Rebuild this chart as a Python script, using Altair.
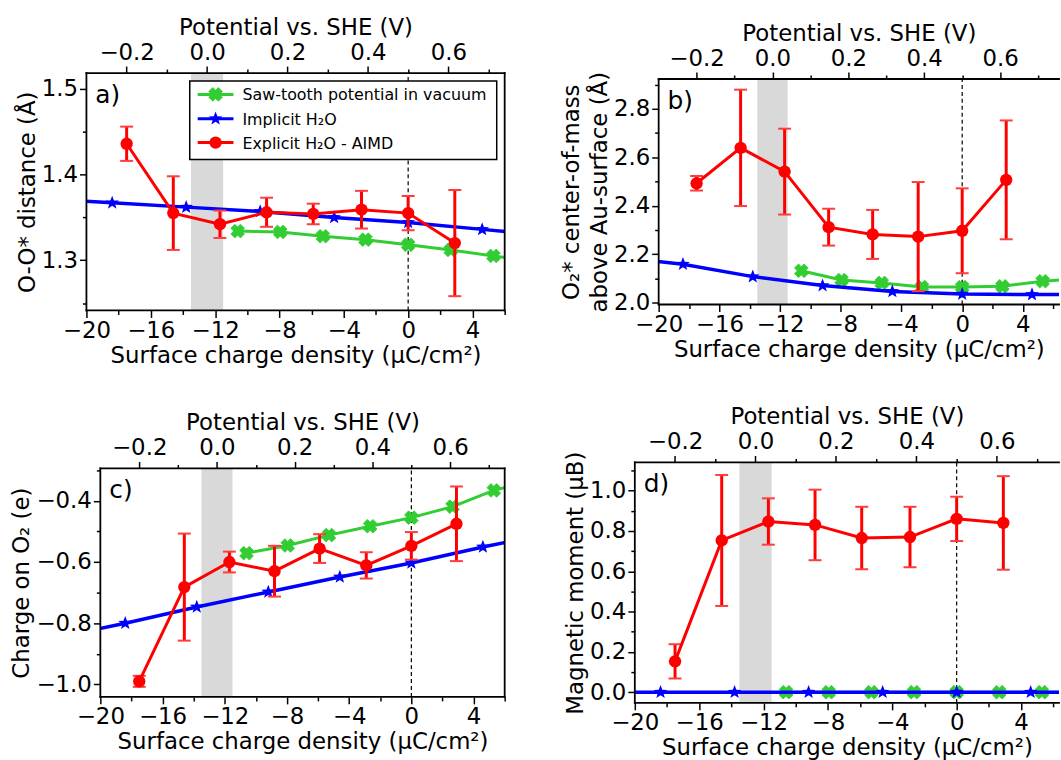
import math
import altair as alt
import pandas as pd

# ---------------- data ----------------
BAND = [-13.5, -11.5]          # grey band (surface charge density)
POT_AT_ZERO = 0.5              # potential (V) at zero surface charge
CHARGE_PER_VOLT = 25.0         # µC/cm² per V (top axis relation)

RED_X = [-17.5, -14.6, -11.7, -8.8, -5.9, -2.9, 0.0, 2.9]
BLUE_X = [-23.0, -18.4, -13.8, -9.2, -4.6, 0.0, 4.6, 9.2]
GREEN_X = [-10.6, -7.95, -5.3, -2.65, 0.0, 2.65, 5.3, 7.95]

# a) O-O* distance
A_RED = [1.436, 1.355, 1.342, 1.356, 1.354, 1.359, 1.355, 1.320]
A_RED_ERR = [0.020, 0.043, 0.016, 0.017, 0.012, 0.022, 0.020, 0.062]
A_BLUE = [1.372, 1.367, 1.362, 1.357, 1.350, 1.344, 1.336, 1.328]
A_GREEN = [1.334, 1.333, 1.328, 1.324, 1.318, 1.312, 1.305, 1.298]

# b) O2* centre-of-mass height
B_RED = [2.493, 2.639, 2.541, 2.312, 2.282, 2.273, 2.297, 2.507]
B_RED_ERR = [0.030, 0.240, 0.177, 0.076, 0.101, 0.225, 0.175, 0.245]
B_BLUE = [2.190, 2.159, 2.108, 2.071, 2.047, 2.036, 2.034, 2.034]
B_GREEN = [2.132, 2.094, 2.082, 2.065, 2.065, 2.068, 2.089, 2.100]

# c) charge on O2
C_RED = [-0.990, -0.682, -0.600, -0.630, -0.556, -0.611, -0.547, -0.475]
C_RED_ERR = [0.018, 0.175, 0.034, 0.083, 0.047, 0.043, 0.045, 0.122]
C_BLUE = [-0.849, -0.800, -0.747, -0.698, -0.649, -0.603, -0.551, -0.502]
C_GREEN = [-0.571, -0.546, -0.512, -0.483, -0.455, -0.419, -0.366, -0.330]

# d) magnetic moment
D_RED = [0.153, 0.753, 0.847, 0.830, 0.765, 0.770, 0.860, 0.840]
D_RED_ERR = [0.085, 0.325, 0.115, 0.175, 0.155, 0.150, 0.110, 0.232]
D_BLUE = [0.0, 0.0, 0.0, 0.0, 0.0, 0.0, 0.0, 0.0]
D_GREEN = [0.0, 0.0, 0.0, 0.0, 0.0, 0.0, 0.0, 0.0]

X_MAJOR = [-20, -16, -12, -8, -4, 0, 4]
X_MINOR = [-18, -14, -10, -6, -2, 2, 6]
POT_MAJOR = [-0.2, 0.0, 0.2, 0.4, 0.6]
POT_MINOR = [-0.1, 0.1, 0.3, 0.5, 0.7]

LEGEND_LABELS = ["Saw-tooth potential in vacuum", "Implicit H\u2082O", "Explicit H\u2082O - AIMD"]

X_TITLE = "Surface charge density (\u03bcC/cm\u00b2)"
TOP_TITLE = "Potential vs. SHE (V)"

# ---------------- styles ----------------
FONT = "DejaVu Sans"
FS = 23
RED = "#ff0000"
CAP = "#ff3b3b"
BLUE = "#0000ff"
GREEN = "#32cd32"
GRAY = "#d9d9d9"
MINUS_1F = "replace(format(datum.value, '.1f'), '-', '\u2212')"
MINUS_INT = "replace(format(datum.value, 'd'), '-', '\u2212')"
POT_LABEL = ("replace(format(datum.value / %g + %g, '.1f'), '-', '\u2212')"
             % (CHARGE_PER_VOLT, POT_AT_ZERO))


def star_path(inner=0.42):
    pts = []
    for k in range(10):
        r = 1.0 if k % 2 == 0 else inner
        ang = math.radians(-90 + 36 * k)
        pts.append((r * math.cos(ang), r * math.sin(ang)))
    return "M " + " L ".join(f"{x:.3f} {y:.3f}" for x, y in pts) + " Z"


def x_path(h=0.42):
    plus = [(h, -1), (h, -h), (1, -h), (1, h), (h, h), (h, 1), (-h, 1), (-h, h),
            (-1, h), (-1, -h), (-h, -h), (-h, -1)]
    c = 1 / math.sqrt(2)
    rot = [((x - y) * c, (x + y) * c) for x, y in plus]
    m = max(max(abs(a), abs(b)) for a, b in rot)
    return "M " + " L ".join(f"{a / m:.3f} {b / m:.3f}" for a, b in rot) + " Z"


STAR = star_path()
XSHAPE = x_path()
STAR_SIZE = 210
X_SIZE = 190
DOT_SIZE = 155


def to_x(v):
    return (v - POT_AT_ZERO) * CHARGE_PER_VOLT


def panel(label, ytitle, xdom, ydom, ymaj, ymin, red_y, red_err, blue_y, green_y,
          W, H, ytitle_pad=2, legend=False, right_spine=True):
    xs = alt.Scale(domain=xdom, nice=False, zero=False)
    ys = alt.Scale(domain=ydom, nice=False, zero=False)

    def X(f, axis=None):
        return alt.X(f, type="quantitative", scale=xs, axis=axis)

    def Y(f, axis=None):
        return alt.Y(f, type="quantitative", scale=ys, axis=axis)

    layers = []
    band = alt.Chart(pd.DataFrame({"x0": [BAND[0]], "x1": [BAND[1]],
                                   "y0": [ydom[0]], "y1": [ydom[1]]})).mark_rect(
        color=GRAY).encode(x=X("x0"), x2=alt.X2("x1"), y=Y("y0"), y2=alt.Y2("y1"))
    layers.append(band)
    zero = alt.Chart(pd.DataFrame({"x": [0.0], "y0": [ydom[0]], "y1": [ydom[1]]})).mark_rule(
        color="black", strokeDash=[4, 3], strokeWidth=1.2).encode(
        x=X("x"), y=Y("y0"), y2=alt.Y2("y1"))
    layers.append(zero)

    gdf = pd.DataFrame({"x": GREEN_X, "y": green_y})
    layers.append(alt.Chart(gdf).mark_line(color=GREEN, strokeWidth=3, clip=True).encode(
        x=X("x"), y=Y("y")))
    layers.append(alt.Chart(gdf).mark_point(shape=XSHAPE, filled=True, color=GREEN, size=X_SIZE,
                                            opacity=1, strokeWidth=0.8, stroke=GREEN,
                                            clip=True).encode(x=X("x"), y=Y("y")))

    bdf = pd.DataFrame({"x": BLUE_X, "y": blue_y})
    layers.append(alt.Chart(bdf).mark_line(color=BLUE, strokeWidth=3.5, clip=True).encode(
        x=X("x"), y=Y("y")))
    layers.append(alt.Chart(bdf).mark_point(shape=STAR, filled=True, color=BLUE, size=STAR_SIZE,
                                            opacity=1, clip=True).encode(x=X("x"), y=Y("y")))

    rdf = pd.DataFrame({"x": RED_X, "y": red_y, "err": red_err})
    rdf["lo"] = rdf["y"] - rdf["err"]
    rdf["hi"] = rdf["y"] + rdf["err"]
    layers.append(alt.Chart(rdf).mark_rule(color=RED, strokeWidth=3).encode(
        x=X("x"), y=Y("lo"), y2=alt.Y2("hi")))
    for f in ["lo", "hi"]:
        layers.append(alt.Chart(rdf).mark_point(shape="stroke", color=CAP, size=169,
                                                strokeWidth=2, opacity=1).encode(
            x=X("x"), y=Y(f)))
    layers.append(alt.Chart(rdf).mark_line(color=RED, strokeWidth=3).encode(x=X("x"), y=Y("y")))
    layers.append(alt.Chart(rdf).mark_circle(color=RED, size=DOT_SIZE, opacity=1).encode(
        x=X("x"), y=Y("y")))

    # frame (spines) on top of the data
    one = pd.DataFrame({"a": [0]})
    spine = dict(color="black", strokeWidth=1.8, strokeCap="square")
    layers.append(alt.Chart(one).mark_rule(**spine).encode(
        x=alt.value(0), x2=alt.value(W), y=alt.value(0), y2=alt.value(0)))
    layers.append(alt.Chart(one).mark_rule(**spine).encode(
        x=alt.value(0), x2=alt.value(W), y=alt.value(H), y2=alt.value(H)))
    layers.append(alt.Chart(one).mark_rule(**spine).encode(
        x=alt.value(0), x2=alt.value(0), y=alt.value(0), y2=alt.value(H)))
    if right_spine:
        layers.append(alt.Chart(one).mark_rule(**spine).encode(
            x=alt.value(W), x2=alt.value(W), y=alt.value(0), y2=alt.value(H)))

    layers.append(alt.Chart(pd.DataFrame({"t": [label]})).mark_text(
        fontSize=25, align="left", baseline="alphabetic", color="black", font=FONT).encode(
        text="t:N", x=alt.value(9), y=alt.value(30)))

    if legend:
        layers.append(alt.Chart(one).mark_rect(
            fill="white", stroke="black", strokeWidth=1.5).encode(
            x=alt.value(104), x2=alt.value(413), y=alt.value(8), y2=alt.value(87)))
        rows = [21.5, 46, 70]
        cols = [GREEN, BLUE, RED]
        for i, (lab, col, yy) in enumerate(zip(LEGEND_LABELS, cols, rows)):
            d1 = pd.DataFrame({"t": [lab]})
            layers.append(alt.Chart(d1).mark_rule(color=col, strokeWidth=3).encode(
                x=alt.value(112), x2=alt.value(148), y=alt.value(yy), y2=alt.value(yy)))
            if i == 0:
                mk = alt.Chart(d1).mark_point(shape=XSHAPE, filled=True, color=col, size=X_SIZE,
                                              opacity=1, stroke=col, strokeWidth=0.8)
            elif i == 1:
                mk = alt.Chart(d1).mark_point(shape=STAR, filled=True, color=col,
                                              size=STAR_SIZE, opacity=1)
            else:
                mk = alt.Chart(d1).mark_circle(color=col, size=DOT_SIZE, opacity=1)
            layers.append(mk.encode(x=alt.value(130), y=alt.value(yy)))
            layers.append(alt.Chart(d1).mark_text(
                align="left", baseline="middle", fontSize=16, color="black", font=FONT).encode(
                text="t:N", x=alt.value(157), y=alt.value(yy + 1)))

    # axes (invisible holders, both channels encoded)
    hold = pd.DataFrame({"u": [0.0], "v": [ydom[0]]})
    xmin = [v for v in X_MINOR if xdom[0] <= v <= xdom[1]]
    layers.append(alt.Chart(hold).mark_point(opacity=0).encode(y=Y("v"), x=X("u", alt.Axis(
        orient="bottom", values=X_MAJOR, title=X_TITLE, labelExpr=MINUS_INT, tickSize=7))))
    layers.append(alt.Chart(hold).mark_point(opacity=0).encode(y=Y("v"), x=X("u", alt.Axis(
        orient="bottom", values=xmin, title=None, labels=False, tickSize=4))))
    layers.append(alt.Chart(hold).mark_point(opacity=0).encode(y=Y("v"), x=X("u", alt.Axis(
        orient="top", values=[to_x(v) for v in POT_MAJOR], title=TOP_TITLE,
        labelExpr=POT_LABEL, tickSize=7))))
    layers.append(alt.Chart(hold).mark_point(opacity=0).encode(y=Y("v"), x=X("u", alt.Axis(
        orient="top", values=[to_x(v) for v in POT_MINOR], title=None, labels=False,
        tickSize=4))))
    layers.append(alt.Chart(hold).mark_point(opacity=0).encode(x=X("u"), y=Y("v", alt.Axis(
        orient="left", values=ymaj, title=ytitle, labelExpr=MINUS_1F, tickSize=7,
        titlePadding=ytitle_pad))))
    layers.append(alt.Chart(hold).mark_point(opacity=0).encode(x=X("u"), y=Y("v", alt.Axis(
        orient="left", values=ymin, title=None, labels=False, tickSize=4))))

    return alt.layer(*layers).resolve_axis(x="independent", y="independent").properties(
        width=W, height=H)


def spacer(w):
    return alt.Chart(pd.DataFrame({"a": [0]})).mark_point(opacity=0).properties(
        width=w, height=1)


pa = panel("a)", "O-O* distance (\u00c5)", [-20, 6], [1.2413, 1.5186], [1.3, 1.4, 1.5],
           [1.25, 1.35, 1.45], A_RED, A_RED_ERR, A_BLUE, A_GREEN, 421, 239, legend=True)
pb = panel("b)", ["O\u2082* center-of-mass", "above Au-surface (\u00c5)"], [-20, 6.38],
           [1.993, 2.923], [2.0, 2.2, 2.4, 2.6, 2.8], [2.1, 2.3, 2.5, 2.7, 2.9],
           B_RED, B_RED_ERR, B_BLUE, B_GREEN, 403, 227, right_spine=False)
pc = panel("c)", "Charge on O\u2082 (e)", [-20, 6], [-1.041, -0.294], [-1.0, -0.8, -0.6, -0.4],
           [-0.9, -0.7, -0.5, -0.3], C_RED, C_RED_ERR, C_BLUE, C_GREEN, 407, 230)
pd_ = panel("d)", "Magnetic moment (\u03bcB)", [-20, 6.36], [-0.053, 1.140],
            [0.0, 0.2, 0.4, 0.6, 0.8, 1.0], [0.1, 0.3, 0.5, 0.7, 0.9, 1.1],
            D_RED, D_RED_ERR, D_BLUE, D_GREEN, 427, 242, right_spine=False)

row1 = alt.hconcat(alt.hconcat(spacer(16), pa, spacing=0), pb, spacing=54, center=True)
row2 = alt.hconcat(alt.hconcat(spacer(11), pc, spacing=0), pd_, spacing=58, center=True)

chart = alt.vconcat(row1, row2, spacing=39).properties(
    padding={"left": 0, "top": 14, "right": 0, "bottom": 0}
).configure_view(strokeWidth=0).configure_axis(
    labelFont=FONT, titleFont=FONT, labelFontSize=FS, titleFontSize=FS,
    titleFontWeight="normal", labelColor="black", titleColor="black",
    tickColor="black", tickWidth=1.5, domain=False, grid=False,
    labelPadding=2, titlePadding=2, labelFlush=False, labelOverlap=False,
    titleLineHeight=28
).configure_text(font=FONT)

chart.save("out.html", embed_options={"renderer": "svg", "actions": False})
